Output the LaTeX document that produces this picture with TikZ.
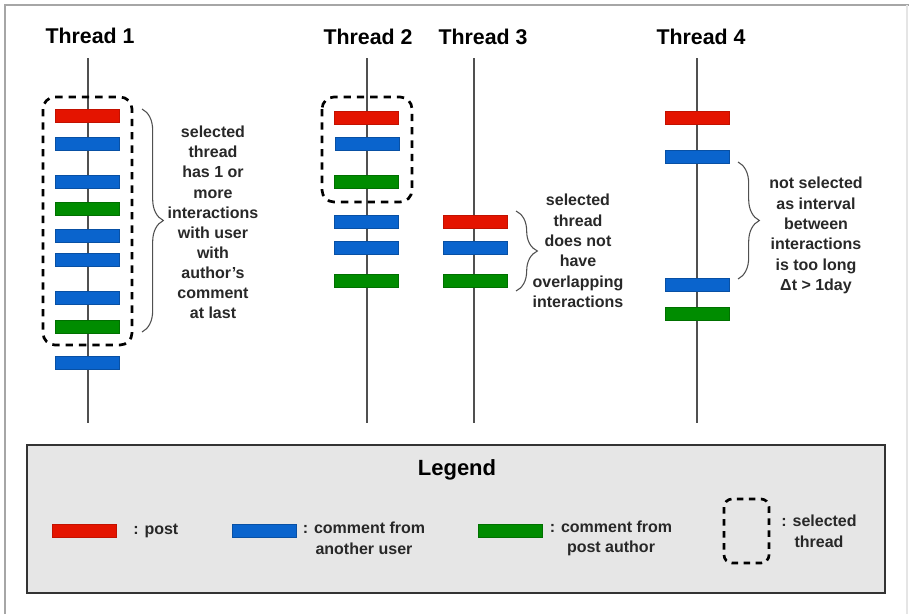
\documentclass[tikz,border=0pt]{standalone}
\usepackage{fontspec}
\setmainfont{Liberation Sans}
\usetikzlibrary{decorations.pathreplacing}
\definecolor{cpost}{RGB}{228,20,0}
\definecolor{cother}{RGB}{10,100,205}
\definecolor{cauthor}{RGB}{0,140,0}
\definecolor{tline}{RGB}{80,80,80}
\definecolor{txt}{RGB}{40,40,40}
\definecolor{legfill}{RGB}{230,230,230}
\tikzset{
  bar/.style={rectangle, minimum width=48pt, minimum height=10pt, inner sep=0pt, line width=0.4pt},
  post/.style={bar, fill=cpost, draw=cpost!85!black},
  other/.style={bar, fill=cother, draw=cother!80!black},
  author/.style={bar, fill=cauthor, draw=cauthor!80!black},
  tl/.style={draw=tline, line width=1pt},
  selbox/.style={draw=black, line width=2pt, dash pattern=on 5.5pt off 4.5pt, rounded corners=9pt},
  title/.style={font=\bfseries\fontsize{16}{18}\selectfont, text=black, inner sep=0pt},
  note/.style={font=\bfseries\fontsize{12}{15.3}\selectfont, text=txt, align=center, inner sep=0pt},
  legtxt/.style={font=\bfseries\fontsize{12}{15.5}\selectfont, text=txt, align=center, inner sep=0pt},
  brc/.style={draw=tline, line width=0.8pt, decorate, decoration={brace, amplitude=16pt}},
}
\begin{document}
\begin{tikzpicture}[x=0.75pt, y=-0.75pt]
\useasboundingbox (0,0) rectangle (909,614);
\fill[white] (0,0) rectangle (909,614);
% outer frame
\draw[gray!70, line width=1.5pt] (5,614) -- (5,5) -- (909,5);
\draw[gray!20, line width=0.8pt] (907,5) -- (907,614);

% titles
\node[title] (h1) at (90,36) {Thread 1};
\node[title] (h2) at (368,37) {Thread 2};
\node[title] (h3) at (483,37) {Thread 3};
\node[title] (h4) at (701,37) {Thread 4};

% thread lines
\coordinate (l1t) at (88,58);  \coordinate (l1b) at (88,423);
\coordinate (l2t) at (367,58); \coordinate (l2b) at (367,423);
\coordinate (l3t) at (474,58); \coordinate (l3b) at (474,423);
\coordinate (l4t) at (697,58); \coordinate (l4b) at (697,423);
\draw[tl] (l1t) -- (l1b);
\draw[tl] (l2t) -- (l2b);
\draw[tl] (l3t) -- (l3b);
\draw[tl] (l4t) -- (l4b);

% thread 1 bars
\node[post]   (a1) at (87.5,116) {};
\node[other]  (a2) at (87.5,144) {};
\node[other]  (a3) at (87.5,181.5) {};
\node[author] (a4) at (87.5,209) {};
\node[other]  (a5) at (87.5,235.5) {};
\node[other]  (a6) at (87.5,260) {};
\node[other]  (a7) at (87.5,297.5) {};
\node[author] (a8) at (87.5,326.5) {};
\node[other]  (a9) at (87.5,362.5) {};

% thread 2 bars
\node[post]   (b1) at (366.5,117.5) {};
\node[other]  (b2) at (367.5,144) {};
\node[author] (b3) at (366.5,181.5) {};
\node[other]  (b4) at (366.5,222) {};
\node[other]  (b5) at (366.5,248) {};
\node[author] (b6) at (366.5,280.5) {};

% thread 3 bars
\node[post]   (c1) at (475,222) {};
\node[other]  (c2) at (475,248) {};
\node[author] (c3) at (475,280.5) {};

% thread 4 bars
\node[post]   (d1) at (697.5,117.5) {};
\node[other]  (d2) at (697.5,157) {};
\node[other]  (d3) at (697.5,285) {};
\node[author] (d4) at (697.5,313.5) {};

% selection boxes
\draw[selbox] (43,97) rectangle (132,345);
\draw[selbox] (322,97) rectangle (412,202);

% braces
\coordinate (r1s) at (142,109); \coordinate (r1e) at (142,332);
\coordinate (r3s) at (516,211); \coordinate (r3e) at (516,291);
\coordinate (r4s) at (738,162); \coordinate (r4e) at (738,279);
\draw[brc] (r1s) -- (r1e);
\draw[brc] (r3s) -- (r3e);
\draw[brc] (r4s) -- (r4e);

% notes
\node[note, font=\bfseries\fontsize{12}{15.1}\selectfont] (n1) at (213,222.5) {selected\\thread\\has 1 or\\more\\interactions\\with user\\with\\author's\\comment\\at last};
\node[note] (n3) at (578,251) {selected\\thread\\does not\\have\\overlapping\\interactions};
\node[note] (n4) at (816,235.5) {not selected\\as interval\\between\\interactions\\is too long\\Δt > 1day};

% legend
\node[draw=black!80, line width=1.2pt, fill=legfill, minimum width=643.5pt, minimum height=111pt, inner sep=0pt] (leg) at (456,519) {};
\node[title, font=\bfseries\fontsize{16.5}{18}\selectfont] (lt) at (457,470) {Legend};
\node[post]   (lp) at (84.5,530.5) {};
\node[other]  (lo) at (264,530.5) {};
\node[author] (la) at (510,530.5) {};
\node[legtxt, anchor=west] (lpt) at (133,531) {: post};
\node[legtxt] (lot) at (364,538.5) {: comment from\\another user};
\node[legtxt] (lat) at (611,538.5) {: comment from\\post author};
\draw[selbox, rounded corners=6pt, dash pattern=on 5pt off 4pt] (724,499) rectangle (769,563);
\node[legtxt] (lst) at (819,531) {: selected\\thread};
\end{tikzpicture}
\end{document}
